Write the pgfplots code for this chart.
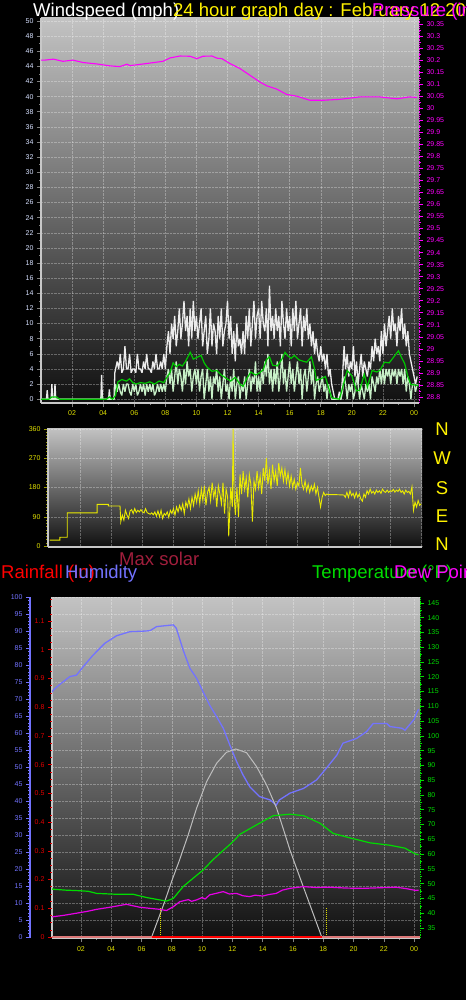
\documentclass[border=0pt]{standalone}
\usepackage{fontspec}
\setmainfont{Liberation Sans}
\usepackage{pgfplots}
\usepackage{pgfplotstable}
\pgfplotsset{compat=1.18}

\definecolor{bgtop}{RGB}{195,195,195}
\definecolor{bgbot}{RGB}{16,16,16}
\definecolor{tyel}{RGB}{225,225,0}
\definecolor{windlab}{RGB}{215,225,255}
\definecolor{pmag}{RGB}{255,0,255}
\definecolor{gust}{RGB}{236,236,236}
\definecolor{spd}{RGB}{200,240,200}
\definecolor{avg}{RGB}{0,200,0}
\definecolor{dirc}{RGB}{235,235,0}
\definecolor{humc}{RGB}{115,115,255}
\definecolor{tempc}{RGB}{0,220,0}
\definecolor{dewc}{RGB}{230,0,230}
\definecolor{solc}{RGB}{190,190,190}
\definecolor{rainlab}{RGB}{225,0,0}
\definecolor{maxsol}{RGB}{160,30,60}
\definecolor{salmon}{RGB}{220,120,120}
\definecolor{framec}{RGB}{200,200,200}

\pgfplotstableread{
h g s
0.0 0 0
0.35 0 0
0.4 1.2 0
0.45 0 0
0.65 0 0
0.7 2 0
0.75 0 0
0.85 0 0
0.9 2 0
0.95 0 0
3.85 0 0
3.9 3.2 0.5
3.95 0 0
4.35 0 0
4.4 1.3 0
4.45 0 0
4.7 0 0
4.75 3.5 1
4.8 4 2
4.9 5 1
5.0 4 2
5.1 6 1
5.2 3.5 0.5
5.3 4 2
5.4 7 1
5.5 4 2
5.6 4 2
5.7 6 1
5.8 3.5 0.5
5.9 4 2
6.0 4 1
6.1 3.5 2
6.2 6 0.5
6.3 4 1
6.4 4 2
6.5 3.5 1
6.6 5 2
6.7 4 0.5
6.8 6 2
6.9 4 1
7.0 4 2
7.1 3.5 1
7.2 5 2
7.3 4 0.5
7.4 6 1
7.5 4 2
7.6 4 1
7.7 5 2
7.8 4 1
7.9 6 2
8.0 4 1
8.1 7 3
8.2 9 4
8.3 6 2
8.4 10 4
8.5 8 1
8.6 11 3
8.7 7 5
8.8 9 2
8.9 12 4
9.0 8 3
9.1 10 1
9.2 13 4
9.3 9 2
9.4 11 5
9.5 7 3
9.6 12 4
9.7 8 1
9.8 13 3
9.9 9 4
10.0 11 2
10.1 8 4
10.2 10 1
10.3 12 3
10.4 7 4
10.5 9 0
10.6 11 2
10.7 6 4
10.8 8 1
10.9 12 3
11.0 7 0
11.1 10 3
11.2 9 2
11.3 6 4
11.4 11 1
11.5 8 3
11.6 12 0
11.7 7 2
11.8 9 4
11.9 10 1
12.0 13 2
12.1 8 0
12.2 11 3
12.3 6 1
12.4 9 4
12.5 5 0
12.6 10 2
12.7 7 3
12.8 8 0
12.9 6 2
13.0 9 1
13.1 6 3
13.2 11 0
13.3 8 2
13.4 12 4
13.5 7 1
13.6 10 3
13.7 13 2
13.8 8 5
13.9 11 1
14.0 12 3
14.1 8 1
14.2 13 4
14.3 10 2
14.4 9 5
14.5 12 3
14.6 7 6
14.7 15 2
14.8 9 4
14.9 11 1
15.0 8 4
15.1 12 2
15.2 9 5
15.3 11 1
15.4 7 3
15.5 13 6
15.6 10 2
15.7 8 4
15.8 12 1
15.9 9 3
16.0 11 5
16.1 7 2
16.2 12 4
16.3 9 1
16.4 13 3
16.5 8 5
16.6 10 2
16.7 12 4
16.8 7 0
16.9 11 3
17.0 9 4
17.1 12 1
17.2 8 3
17.3 10 5
17.4 7 2
17.5 9 4
17.6 6 0
17.7 8 2
17.8 6 3
17.9 5 1
18.0 7 2
18.1 5 3
18.2 6 1
18.3 4 2
18.4 6 0
18.5 3 2
18.6 4 1
18.7 2 0
18.8 1 0
18.9 0 0
19.0 0 0
19.1 0 0
19.2 1 0
19.3 0 0
19.4 3 1
19.5 7 3
19.6 4 2
19.7 6 0
19.8 3 2
19.9 5 1
20.0 4 2
20.1 7 0
20.2 3 1
20.3 5 3
20.4 2 2
20.5 4 0
20.6 6 2
20.7 3 1
20.8 5 0
20.9 4 2
21.0 3 1
21.1 5 2
21.2 4 0
21.3 7 3
21.4 5 2
21.5 8 1
21.6 6 3
21.7 7 2
21.8 5 4
21.9 9 2
22.0 6 4
22.1 10 2
22.2 7 4
22.3 9 3
22.4 11 4
22.5 8 2
22.6 12 4
22.7 9 3
22.8 10 4
22.9 7 2
23.0 11 4
23.1 9 3
23.2 12 4
23.3 8 2
23.4 10 4
23.5 7 1
23.6 9 3
23.7 6 2
23.8 5 0
23.9 4 2
24.0 3 2
24.1 2 1
24.2 3 2
}\windtable

\pgfplotstableread{
h v
0 0
0.5 0
0.7 0.3
1.0 0.3
1.2 0
4.2 0
4.4 0.3
4.6 0
4.8 0.5
4.95 2.3
5.2 2.6
5.5 2.4
5.7 2.7
5.9 2.2
6.1 2.0
6.4 2.2
6.7 2.1
7.0 2.3
7.3 2.0
7.6 2.4
7.9 2.2
8.1 2.9
8.3 3.5
8.5 4.8
8.7 4.3
8.9 4.6
9.1 4.4
9.3 5.0
9.6 6.2
9.8 5.3
10.0 5.5
10.3 5.8
10.5 4.8
10.7 4.2
11.0 3.7
11.3 3.8
11.6 3.2
11.9 2.8
12.2 2.4
12.5 2.9
12.8 2.0
13.0 1.7
13.2 2.6
13.5 3.6
13.8 3.2
14.0 3.4
14.3 3.9
14.5 5.2
14.7 5.6
14.9 4.5
15.2 4.4
15.5 5.3
15.7 6.2
15.9 5.7
16.1 5.4
16.3 5.8
16.6 5.2
16.9 5.0
17.1 4.9
17.4 5.6
17.6 4.0
17.7 2.5
18.0 2.7
18.3 3.0
18.5 1.5
18.7 0.2
19.2 0
19.4 1.5
19.7 3.8
20.0 3.1
20.3 1.1
20.5 1.2
20.8 3.3
21.0 1.6
21.3 3.8
21.6 3.6
21.8 3.8
22.1 4.9
22.4 4.8
22.7 5.6
23.0 6.4
23.2 5.5
23.4 4.7
23.6 3.0
23.8 1.9
24.0 1.9
24.3 1.8
}\avgtable

\pgfplotstableread{
h p
0.0 30.200
0.26 30.200
0.8 30.204
1.41 30.195
2.06 30.200
2.7 30.190
3.6 30.184
4.44 30.176
5.08 30.173
5.53 30.183
5.72 30.177
6.82 30.186
7.85 30.195
8.3 30.209
8.94 30.217
9.58 30.216
10.03 30.206
10.42 30.216
11.0 30.217
11.32 30.208
11.64 30.206
12.15 30.186
12.8 30.165
13.44 30.137
14.08 30.109
14.53 30.093
15.18 30.079
15.82 30.057
16.46 30.050
17.3 30.033
18.14 30.033
19.23 30.037
20.5 30.047
21.8 30.047
22.9 30.039
23.7 30.047
24.2 30.045
}\prestable

\pgfplotstableread{
h d
0 18
0.67 18
0.67 27
1.14 27
1.14 102
3.07 102
3.07 128
3.8 128
3.8 123
4.55 123
4.6 75
4.7 95
4.8 80
4.9 110
5.0 95
5.1 85
5.2 108
5.3 112
5.4 100
5.5 115
5.6 103
5.7 110
5.8 105
5.9 112
6.0 105
6.1 102
6.2 115
6.3 103
6.4 100
6.5 98
6.6 102
6.7 96
6.8 105
6.9 92
7.0 108
7.1 90
7.2 110
7.3 85
7.4 100
7.5 95
7.6 105
7.7 88
7.8 110
7.9 100
8.0 115
8.1 95
8.2 120
8.3 105
8.4 125
8.5 110
8.6 130
8.7 100
8.8 135
8.9 120
9.0 145
9.1 115
9.2 150
9.3 125
9.4 160
9.5 135
9.6 170
9.7 130
9.8 175
9.9 140
10.0 185
10.1 125
10.2 165
10.3 180
10.4 140
10.5 195
10.6 150
10.7 175
10.8 120
10.9 185
11.0 160
11.1 130
11.2 195
11.3 100
11.4 175
11.5 150
11.57 30
11.7 180
11.8 120
11.85 360
11.92 150
12.0 95
12.1 180
12.2 90
12.3 220
12.4 160
12.5 230
12.6 175
12.7 210
12.8 150
12.9 220
13.0 190
13.1 75
13.2 200
13.3 175
13.4 230
13.5 180
13.6 215
13.7 160
13.8 240
13.9 200
14.0 270
14.1 190
14.2 230
14.3 175
14.4 250
14.5 200
14.6 230
14.7 185
14.8 255
14.9 215
15.0 240
15.1 200
15.2 235
15.3 195
15.4 225
15.5 185
15.6 215
15.7 180
15.8 205
15.9 175
16.0 195
16.1 185
16.2 240
16.3 190
16.4 175
16.5 200
16.6 170
16.7 190
16.8 165
16.9 185
17.0 170
17.1 190
17.2 160
17.3 180
17.4 150
17.5 120
17.6 150
17.7 165
17.8 155
17.9 160
18.0 158
18.5 158
19.0 157
19.1 150
19.2 165
19.3 150
19.4 170
19.5 155
19.6 162
19.7 148
19.8 165
19.9 150
20.0 160
20.1 145
20.2 138
20.3 160
20.4 150
20.5 170
20.6 160
20.7 175
20.8 163
20.9 168
21.0 160
21.1 172
21.2 165
21.3 170
21.4 162
21.5 175
21.6 168
21.7 165
21.8 172
21.9 165
22.0 170
22.1 168
22.2 174
22.3 166
22.4 172
22.5 168
22.6 175
22.7 165
22.8 170
22.9 160
23.0 172
23.1 165
23.2 168
23.3 160
23.4 182
23.5 110
23.6 135
23.7 120
23.8 140
23.9 125
24.0 130
}\dirtable

\pgfplotstableread{
h v
0.09 72.0
0.17 72.6
0.61 74.3
1.27 76.6
1.7 77.0
2.15 79.5
2.8 82.9
3.58 86.4
4.35 88.6
5.23 89.8
6.34 90.0
6.6 90.2
7.0 91.3
8.1 91.8
8.3 90.8
8.75 84.4
9.2 79.0
9.64 76.1
10.07 72.1
10.5 68.2
10.96 64.8
11.4 61.4
11.83 56.5
12.28 51.6
12.71 47.6
13.15 44.2
13.8 41.3
14.5 40.3
14.9 38.8
15.1 40.3
15.8 42.3
16.7 43.7
17.56 46.2
18.2 49.6
18.9 53.5
19.3 57.0
20.2 58.4
20.86 60.4
21.3 62.8
22.2 62.8
22.4 61.9
23.2 61.4
23.4 60.8
23.6 61.9
24.0 64.0
24.16 65.8
24.3 67.0
}\humtable

\pgfplotstableread{
h v
6.67 0
7.0 4
7.5 10
8.0 16.5
8.5 22.5
9.08 30
9.64 37.9
10.3 45.7
10.96 51.1
11.6 54.3
12.23 55.3
12.94 54.2
13.6 50.1
14.26 44.7
14.92 37.9
15.47 30.3
15.8 25.6
16.5 17
17.2 8.5
17.9 0
}\soltable

\pgfplotstableread{
h v
0.09 48.2
0.17 48.1
1.0 47.8
1.93 47.6
2.5 47.4
3.03 46.7
4.35 46.4
5.45 46.4
6.33 45.3
7.2 44.5
7.65 44.1
8.1 45.0
8.75 49.0
9.4 51.8
10.07 54.6
10.7 58.0
11.3 60.8
12.0 64.0
12.5 66.7
13.6 69.9
14.7 73.0
15.8 73.5
16.7 73.0
17.8 70.4
18.65 67.0
19.75 65.5
21.1 63.8
22.4 63.0
23.4 62.0
24.1 60.0
24.3 59.8
}\temptable

\pgfplotstableread{
h v
0.09 38.8
0.17 38.8
0.9 39.3
1.71 40.0
2.4 40.6
3.03 41.3
3.9 42.0
5.0 43.0
5.9 42.0
7.2 41.3
7.65 40.9
8.1 42.2
8.53 43.9
9.1 44.6
9.3 44.0
9.64 44.5
10.0 45.3
10.2 44.8
10.5 46.2
11.0 46.8
11.4 47.3
11.8 46.5
12.28 46.7
12.7 45.9
13.15 45.6
13.5 46.1
14.0 45.8
14.4 46.3
14.9 46.7
15.3 47.8
15.8 48.4
16.7 49.0
17.5 48.7
18.4 48.8
19.5 48.5
20.6 48.4
21.7 48.6
22.8 48.8
23.5 48.3
24.1 47.7
24.3 47.8
}\dewtable

\pgfplotsset{
  base/.style={scale only axis, anchor=south west,
    /pgf/number format/assume math mode=true,
    tick label style={font=\fontsize{7}{8}\selectfont},
    tick align=outside, major tick length=4pt, minor tick length=2pt,
    clip=true},
  bgshade/.style={axis background/.style={shade, top color=bgtop, bottom color=bgbot}},
}

\begin{document}
\begin{tikzpicture}
\path[use as bounding box, fill=black] (0,0) rectangle (466pt,-1000pt);

% ---------- top panel: wind speed ----------
\begin{axis}[base, bgshade, at={(41pt,-403pt)}, width=378pt, height=385pt,
  xmin=0, xmax=24.32, ymin=-0.5, ymax=50.4,
  axis x line*=bottom, axis y line*=left,
  axis line style={-, draw=framec, line width=1.2pt},
  xtick={2,4,...,24}, xticklabels={02,04,06,08,10,12,14,16,18,20,22,00},
  minor x tick num=1,
  xticklabel style={text=tyel},
  ytick={0,2,...,50}, minor y tick num=1,
  yticklabel style={text=windlab},
  tick style={draw=gray, line width=0.6pt},
  grid=major, major grid style={densely dotted, draw=white, opacity=0.3},
]
\addplot[gust, line width=1.3pt, line join=bevel] table[x=h, y=g] {\windtable};
\addplot[spd, line width=1.3pt, line join=bevel] table[x=h, y=s] {\windtable};
\addplot[avg, line width=1.2pt] table[x=h, y=v] {\avgtable};
\end{axis}

\begin{axis}[base, at={(41pt,-403pt)}, width=378pt, height=385pt,
  xmin=0, xmax=24.32, ymin=28.775, ymax=30.375,
  axis x line=none, axis y line*=right,
  y axis line style={-, draw=pmag, line width=0.8pt, densely dotted},
  ytick={28.8,28.85,...,30.36}, minor y tick num=1,
  yticklabel style={text=pmag},
  ytick style={draw=pmag, line width=0.6pt},
]
\addplot[pmag, line width=1.1pt] table[x=h, y=p] {\prestable};
\end{axis}

% ---------- middle panel: wind direction ----------
\begin{axis}[base, bgshade, at={(48pt,-547pt)}, width=374pt, height=119pt,
  xmin=-0.1, xmax=24.05, ymin=-3, ymax=363,
  axis x line*=bottom, axis y line*=left,
  axis line style={-, draw=framec, line width=1.2pt},
  xtick={2,4,...,24}, xticklabels={}, major x tick style={draw=none},
  ytick={0,90,180,270,360}, minor y tick num=8,
  yticklabel style={text=tyel},
  ytick style={draw=tyel!70!black, line width=0.5pt},
  grid=major, major grid style={densely dotted, draw=white, opacity=0.3},
]
\addplot[dirc, line width=0.9pt] table[x=h, y=d] {\dirtable};
\end{axis}

% ---------- bottom panel ----------
\begin{axis}[base, bgshade, at={(52pt,-938pt)}, width=368pt, height=341pt,
  xmin=0.09, xmax=24.39, ymin=-0.3, ymax=100,
  axis x line*=bottom, axis y line*=left,
  axis line style={-, draw=framec, line width=1.2pt},
  xtick={2,4,...,24}, xticklabels={02,04,06,08,10,12,14,16,18,20,22,00},
  minor x tick num=1,
  xticklabel style={text=tyel, yshift=-1.5pt},
  ytick={0,5,...,100}, yticklabels={}, major y tick style={draw=none},
  tick style={draw=gray, line width=0.6pt},
  grid=major, major grid style={densely dotted, draw=white, opacity=0.3},
]
\addplot[humc, line width=1.3pt] table[x=h, y=v] {\humtable};
\addplot[solc, line width=1pt] table[x=h, y=v] {\soltable};
\addplot[tyel, densely dotted, line width=1pt] coordinates {(7.28,0) (7.28,8.8)};
\addplot[tyel, densely dotted, line width=1pt] coordinates {(18.2,0) (18.2,8.8)};
\end{axis}

\begin{axis}[base, at={(52pt,-938pt)}, width=368pt, height=341pt,
  xmin=0.09, xmax=24.39, ymin=31.6, ymax=147,
  axis x line=none, axis y line*=right,
  y axis line style={-, draw=tempc, line width=0.8pt, densely dotted},
  ytick={35,40,...,145}, minor y tick num=1,
  yticklabel style={text=tempc},
  ytick style={draw=tempc, line width=0.6pt},
]
\addplot[tempc, line width=1.2pt] table[x=h, y=v] {\temptable};
\addplot[dewc, line width=1.2pt] table[x=h, y=v] {\dewtable};
\end{axis}

\begin{axis}[base, at={(52pt,-938pt)}, width=368pt, height=341pt,
  xmin=0.09, xmax=24.39, ymin=-0.0035, ymax=1.1835,
  axis x line=none, axis y line*=left,
  y axis line style={draw=none},
  ytick={0,0.1,...,1.15}, minor y tick num=3,
  yticklabel style={text=rainlab},
  ytick style={draw=rainlab, line width=0.6pt},
]
\addplot[salmon, line width=1.4pt] coordinates {(0.09,0) (24.39,0)};
\addplot[red, line width=2pt] coordinates {(6.67,0) (17.9,0)};
\end{axis}

\begin{axis}[base, at={(30pt,-938pt)}, width=10pt, height=341pt,
  xmin=0, xmax=1, ymin=-0.3, ymax=100,
  axis x line=none, axis y line*=left,
  y axis line style={-, draw=humc, line width=2pt},
  ytick={0,5,...,100}, minor y tick num=4,
  yticklabel style={text=humc},
  ytick style={draw=humc, line width=0.6pt},
]
\addplot[draw=none] coordinates {(0,0)};
\end{axis}

% ---------- titles ----------
\begin{scope}[every node/.style={inner sep=0pt, font=\fontsize{18.5}{20}\selectfont}]
\node[anchor=base west, text=white] at (33pt,-16.5pt) {Windspeed (mph)};
\node[anchor=base west, text=yellow] at (173pt,-16.5pt) {24 hour graph day : February 12 20};
\node[anchor=base west, text=pmag] at (372pt,-16.5pt) {Pressure (in)};
\node[anchor=base, text=yellow] at (442pt,-435pt) {N};
\node[anchor=base, text=yellow] at (442pt,-464pt) {W};
\node[anchor=base, text=yellow] at (442pt,-494pt) {S};
\node[anchor=base, text=yellow] at (442pt,-522.5pt) {E};
\node[anchor=base, text=yellow] at (442pt,-550pt) {N};
\node[anchor=base west, text=maxsol] at (119pt,-565pt) {Max solar};
\node[anchor=base west, text=red] at (1pt,-578pt) {Rainfall (in)};
\node[anchor=base west, text=humc] at (65pt,-578pt) {Humidity};
\node[anchor=base west, text=tempc] at (312pt,-578pt) {Temperature (°F)};
\node[anchor=base west, text=pmag] at (394pt,-578pt) {Dew Point (°F)};
\end{scope}
\end{tikzpicture}
\end{document}
